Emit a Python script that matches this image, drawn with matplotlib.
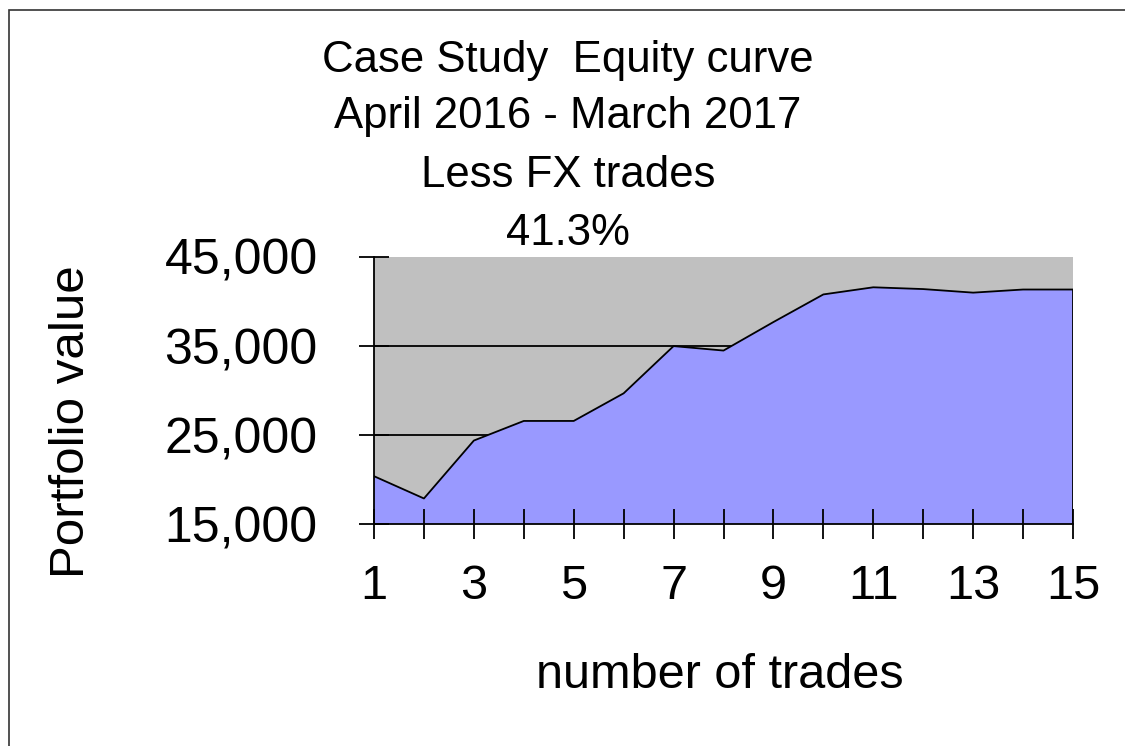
import numpy as np
import matplotlib
matplotlib.use('Agg')
import matplotlib.pyplot as plt
from matplotlib.ticker import FixedLocator, FuncFormatter
from matplotlib.patches import Rectangle

plt.rcParams['font.family'] = ['Liberation Sans', 'DejaVu Sans']

# data
trades = np.arange(1, 16)
portfolio = [20400, 17900, 24400, 26600, 26600, 29700, 35000, 34500,
             37700, 40800, 41600, 41400, 41000, 41350, 41350]
title_lines = ['Case Study  Equity curve', 'April 2016 - March 2017',
               'Less FX trades', '41.3%']
y_ticks = [15000, 25000, 35000, 45000]
x_labels = [1, 3, 5, 7, 9, 11, 13, 15]

W, H = 1125, 746
fig = plt.figure(figsize=(W / 100, H / 100), dpi=100)
fig.patch.set_facecolor('white')

# outer frame (only top/left visible in the original)
fig.patches.append(Rectangle((9 / W, -0.1), 1.2, 1 - 10 / H + 0.1,
                             transform=fig.transFigure, fill=False,
                             edgecolor='#333333', linewidth=1.2))

ax = fig.add_axes([374 / W, 1 - 524.3 / H, (1073 - 374) / W, (524.3 - 257) / H])
ax.set_facecolor('#C0C0C0')
ax.set_xlim(1, 15)
ax.set_ylim(15000, 45000)
ax.set_axisbelow(False)

for g in [25000, 35000]:
    ax.axhline(g, color='black', linewidth=1.3, zorder=1)

ax.fill_between(trades, portfolio, 15000, facecolor='#9999FF',
                edgecolor='none', zorder=2)
ax.plot(list(trades) + [15], portfolio + [15000], color='black',
        linewidth=1.3, zorder=3)

for s in ['top', 'right']:
    ax.spines[s].set_visible(False)
for s in ['left', 'bottom']:
    ax.spines[s].set_linewidth(1.3)
    ax.spines[s].set_zorder(4)

ax.xaxis.set_major_locator(FixedLocator(list(trades)))
ax.xaxis.set_major_formatter(FuncFormatter(
    lambda v, p: str(int(v)) if int(v) in x_labels else ''))
ax.yaxis.set_major_locator(FixedLocator(y_ticks))
ax.yaxis.set_major_formatter(FuncFormatter(lambda v, p: '{:,.0f}'.format(v)))

ax.tick_params(axis='x', direction='inout', length=21, width=1.3,
               labelsize=35, pad=18)
ax.tick_params(axis='y', direction='inout', length=21, width=1.3,
               labelsize=36, pad=30)

fig.text(720 / W, 1 - 675 / H, 'number of trades', fontsize=35,
         ha='center', va='center')
fig.text(72 / W, 1 - 422 / H, 'Portfolio value', fontsize=35.5,
         ha='center', va='center', rotation=90)

baselines = [72, 128, 187, 245]
for line, yb in zip(title_lines, baselines):
    fig.text(568 / W, 1 - yb / H, line, fontsize=31.5, ha='center',
             va='baseline')

fig.savefig('out.png', dpi=100)
